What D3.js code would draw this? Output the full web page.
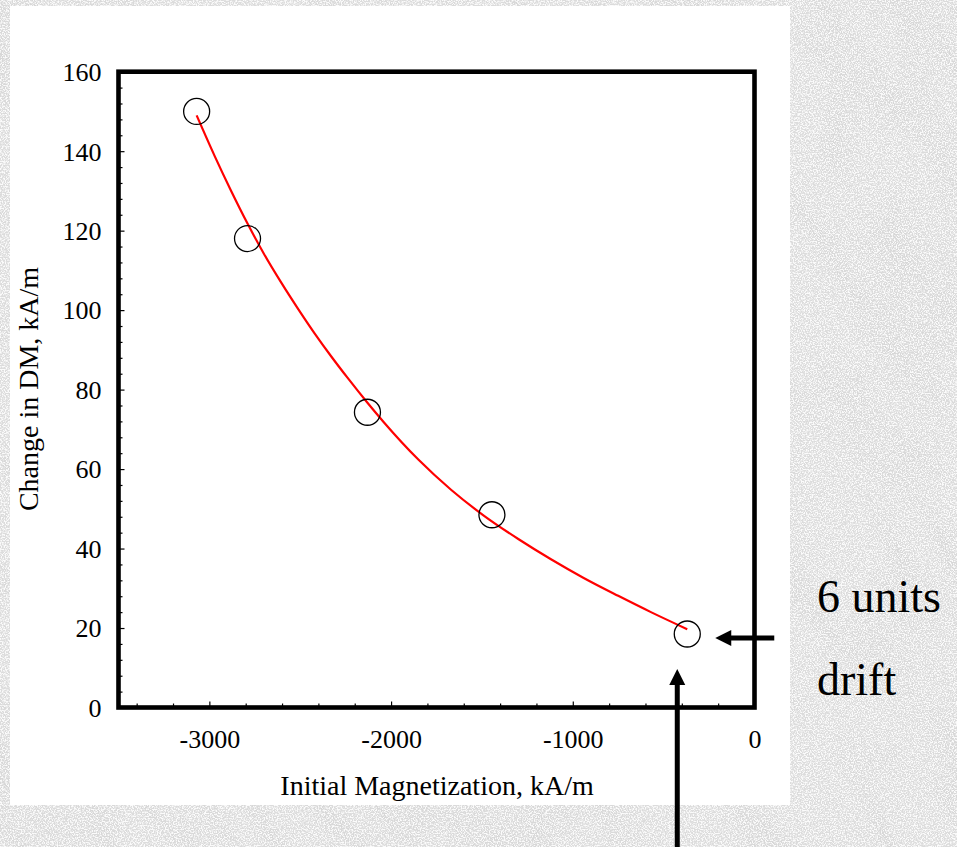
<!DOCTYPE html>
<html>
<head>
<meta charset="utf-8">
<script src="https://cdn.jsdelivr.net/npm/d3@7"></script>
<style>
  html, body { margin: 0; padding: 0; background: #d9d9d9; }
  svg { display: block; }
  text { font-family: "Liberation Serif", "Times New Roman", Times, serif; fill: #000; }
</style>
</head>
<body>
<svg id="chart" width="957" height="847"></svg>
<script>
// Measured samples: initial magnetization (kA/m) vs change in DM (kA/m)
const magnetization = [-3070, -2790, -2130, -1445, -370];
const changeDM      = [150, 118, 74.3, 48.5, 18.5];

// Fitted trend line, sampled along its length
const fitX = [-3070, -2970, -2880, -2790, -2700, -2600, -2510, -2420, -2330, -2240, -2130,
              -2040, -1850, -1670, -1490, -1300, -1120, -940, -750, -570, -370];
const fitY = [149, 138.7, 130, 121.8, 114.2, 106.6, 100.2, 94.1, 88.4, 83.0, 76.7,
              71.8, 62.4, 54.8, 48.3, 42.4, 37.3, 32.6, 28.1, 24.0, 19.7];

// Axis ticks
const xMajorTicks = [-3000, -2000, -1000, 0];
const yMajorTicks = [0, 20, 40, 60, 80, 100, 120, 140, 160];

const xTitle = "Initial Magnetization, kA/m";
const yTitle = "Change in DM, kA/m";
const noteLines = ["6 units", "drift"];

const svg = d3.select("#chart");
const W = 957, H = 847;

// ---- textured backdrop ----
const defs = svg.append("defs");
const grain = defs.append("filter").attr("id", "grain")
  .attr("x", 0).attr("y", 0).attr("width", "100%").attr("height", "100%");
grain.append("feTurbulence").attr("type", "fractalNoise")
  .attr("baseFrequency", "0.75").attr("numOctaves", 2).attr("seed", 7);
grain.append("feColorMatrix").attr("type", "matrix")
  .attr("values", "0 0 0 0 1  0 0 0 0 1  0 0 0 0 1  4.5 0 0 0 -1.9");

const bands = defs.append("filter").attr("id", "bands")
  .attr("x", 0).attr("y", 0).attr("width", "100%").attr("height", "100%");
bands.append("feTurbulence").attr("type", "turbulence")
  .attr("baseFrequency", "0.014 0.005").attr("numOctaves", 2).attr("seed", 3);
bands.append("feColorMatrix").attr("type", "matrix")
  .attr("values", "0 0 0 0 0.55  0 0 0 0 0.55  0 0 0 0 0.55  -1.4 0 0 0 0.4");

svg.append("rect").attr("width", W).attr("height", H).attr("fill", "#dcdcdc");
svg.append("g").attr("transform", "rotate(-35 480 420)")
  .append("rect").attr("x", -400).attr("y", -400).attr("width", 1800).attr("height", 1700)
  .attr("filter", "url(#bands)").attr("opacity", 0.5);
svg.append("rect").attr("width", W).attr("height", H)
  .attr("filter", "url(#grain)").attr("opacity", 0.9);

// White chart panel
svg.append("rect").attr("x", 10).attr("y", 6).attr("width", 780).attr("height", 799)
  .attr("fill", "#ffffff");

// ---- scales ----
const x = d3.scaleLinear().domain([-3500, 0]).range([118.5, 754.5]);
const y = d3.scaleLinear().domain([0, 160]).range([707.5, 71.7]);

const g = svg.append("g");

// minor + major ticks, pointing into the plot
const xAllTicks = d3.range(-3400, 1, 200);
const yAllTicks = d3.range(0, 161, 4);

const xAxis = d3.axisBottom(x)
  .tickValues(xAllTicks)
  .tickSizeInner(-3).tickSizeOuter(0)
  .tickFormat(d => xMajorTicks.includes(d) ? d3.format("d")(d) : "");
const gx = g.append("g").attr("transform", `translate(0,${y(0)})`).call(xAxis);
gx.select(".domain").remove();
gx.selectAll(".tick line")
  .attr("stroke", "#000").attr("stroke-width", 1.2)
  .attr("y2", d => xMajorTicks.includes(d) ? -6 : -4);
gx.selectAll(".tick text")
  .attr("y", 40.5).attr("dy", 0)
  .attr("font-size", 26).attr("font-family", "Liberation Serif, Times New Roman, serif")
  .text(d => xMajorTicks.includes(d) ? (d < 0 ? "-" + Math.abs(d) : String(d)) : "");

const yAxis = d3.axisLeft(y)
  .tickValues(yAllTicks)
  .tickSizeInner(-3).tickSizeOuter(0)
  .tickFormat(d => yMajorTicks.includes(d) ? String(d) : "");
const gy = g.append("g").attr("transform", `translate(${x(-3500)},0)`).call(yAxis);
gy.select(".domain").remove();
gy.selectAll(".tick line")
  .attr("stroke", "#000").attr("stroke-width", 1.2)
  .attr("x2", d => yMajorTicks.includes(d) ? 6 : 4);
gy.selectAll(".tick text")
  .attr("x", -17).attr("dy", "0.34em")
  .attr("font-size", 26).attr("font-family", "Liberation Serif, Times New Roman, serif");

// Heavy frame around the plot area
g.append("rect")
  .attr("x", x(-3500)).attr("y", y(160))
  .attr("width", x(0) - x(-3500)).attr("height", y(0) - y(160))
  .attr("fill", "none").attr("stroke", "#000").attr("stroke-width", 4.6)
  .attr("stroke-linejoin", "miter");

// Fitted curve
const fitData = fitX.map((v, i) => [v, fitY[i]]);
g.append("path")
  .datum(fitData)
  .attr("fill", "none").attr("stroke", "#ff0000").attr("stroke-width", 2.2)
  .attr("d", d3.line().x(d => x(d[0])).y(d => y(d[1])).curve(d3.curveMonotoneX));

// Open circle markers
const pts = magnetization.map((v, i) => [v, changeDM[i]]);
g.selectAll("circle.pt").data(pts).join("circle")
  .attr("class", "pt")
  .attr("cx", d => x(d[0])).attr("cy", d => y(d[1])).attr("r", 13)
  .attr("fill", "none").attr("stroke", "#000").attr("stroke-width", 1.3);

// Axis titles
g.append("text")
  .attr("x", 437).attr("y", 795)
  .attr("text-anchor", "middle").attr("font-size", 28)
  .text(xTitle);
g.append("text")
  .attr("transform", "translate(38,389) rotate(-90)")
  .attr("text-anchor", "middle").attr("font-size", 28)
  .text(yTitle);

// Arrows pointing at the last sample
const last = pts[pts.length - 1];
const lx = x(last[0]), ly = y(last[1]);
const ann = svg.append("g").attr("fill", "#000");
// horizontal arrow from the right
const hTip = lx + 28, hY = ly + 4;
ann.append("line").attr("x1", hTip + 14).attr("y1", hY).attr("x2", hTip + 59).attr("y2", hY)
  .attr("stroke", "#000").attr("stroke-width", 5);
ann.append("path").attr("d", `M${hTip},${hY} L${hTip + 16},${hY - 8} L${hTip + 16},${hY + 8} Z`);
// vertical arrow from below
const vX = lx - 10, vTip = ly + 35;
ann.append("line").attr("x1", vX).attr("y1", vTip + 14).attr("x2", vX).attr("y2", H + 2)
  .attr("stroke", "#000").attr("stroke-width", 5);
ann.append("path").attr("d", `M${vX},${vTip} L${vX - 8},${vTip + 16} L${vX + 8},${vTip + 16} Z`);

// Annotation text
svg.append("text").attr("x", 817).attr("y", 612).attr("font-size", 46).text(noteLines[0]);
svg.append("text").attr("x", 817).attr("y", 695).attr("font-size", 46).text(noteLines[1]);
</script>
</body>
</html>
